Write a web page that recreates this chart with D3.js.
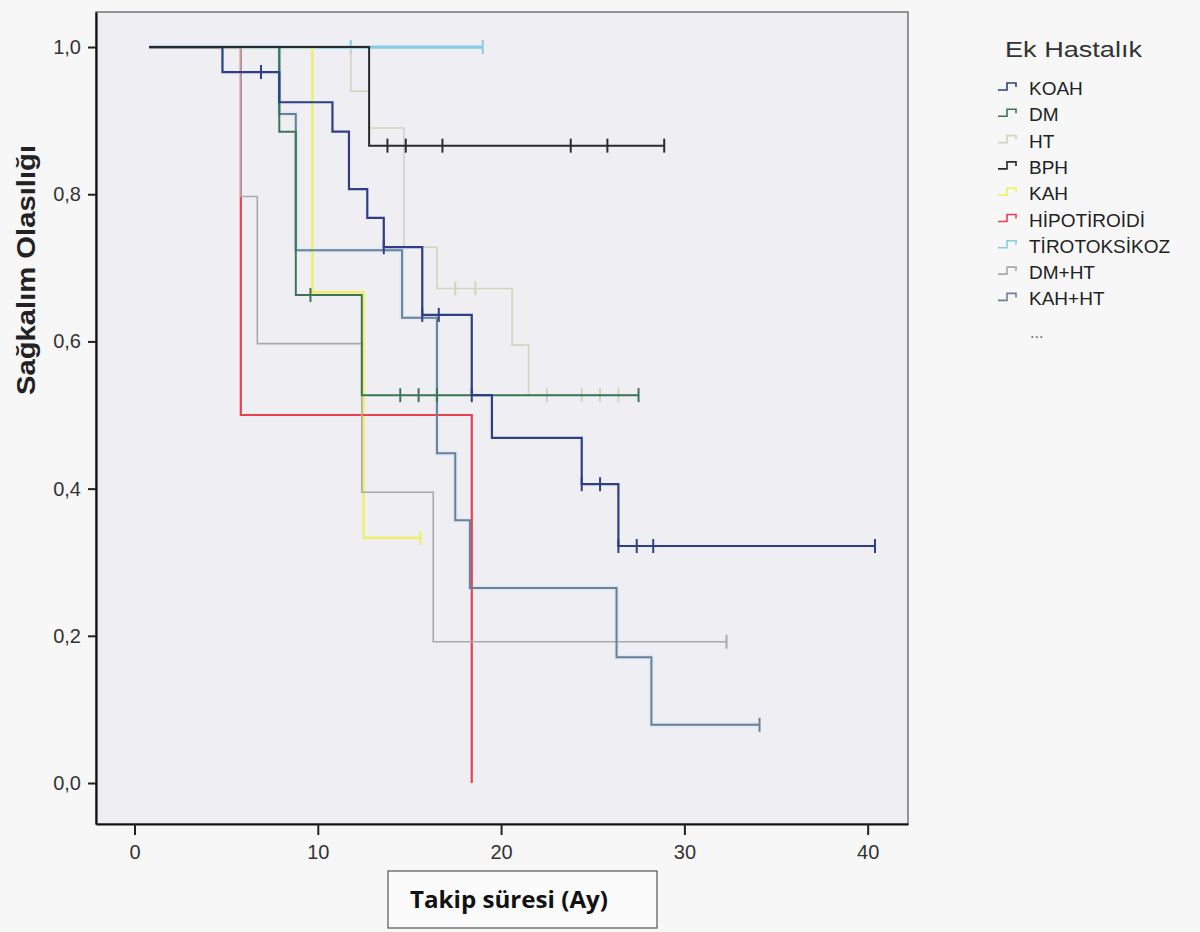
<!DOCTYPE html>
<html><head><meta charset="utf-8">
<script src="https://cdn.jsdelivr.net/npm/d3@7"></script>
<style>
html,body{margin:0;padding:0;background:#f7f7f8;}
svg{display:block;}
</style></head>
<body>
<svg id="chart" width="1200" height="932"></svg>
<script>
// ---- data (time in months, survival probability) ----
const seriesNames = ["KOAH","DM","HT","BPH","KAH","HİPOTİROİDİ","TİROTOKSİKOZ","DM+HT","KAH+HT"];
const koahSteps = [[0.8,1],[4.8,0.966],[7.9,0.925],[10.8,0.885],[11.7,0.807],[12.7,0.768],[13.6,0.728],[15.7,0.636],[18.4,0.527],[19.5,0.469],[24.4,0.406],[26.4,0.322],[40.4,0.322]];
const koahCensor = [6.9,13.6,15.7,16.6,18.4,24.4,25.4,26.4,27.4,28.3,40.4];
const dmSteps = [[0.8,1],[7.9,0.885],[8.8,0.663],[12.4,0.527],[27.5,0.527]];
const dmCensor = [9.6,14.5,15.5,16.5,27.5];
const htSteps = [[0.8,1],[11.8,0.94],[12.8,0.89],[14.7,0.728],[16.5,0.672],[20.6,0.595],[21.5,0.527],[27.4,0.527]];
const htCensor = [17.5,18.6,22.5,24.4,25.4,26.4];
const bphSteps = [[0.8,1],[12.8,0.866],[28.9,0.866]];
const bphCensor = [13.8,14.8,16.8,23.8,25.8,28.9];
const kahSteps = [[0.8,1],[9.7,0.667],[12.5,0.333],[15.6,0.333]];
const kahCensor = [15.6];
const hipoSteps = [[0.8,1],[5.8,0.5],[18.4,0.0]];
const hipoCensor = [];
const tiroSteps = [[0.8,1],[19.0,1]];
const tiroCensor = [11.8,19.0];
const dmhtSteps = [[0.8,1],[5.8,0.797],[6.7,0.597],[12.4,0.395],[16.3,0.192],[32.3,0.192]];
const dmhtCensor = [32.3];
const kahhtSteps = [[0.8,1],[7.9,0.909],[8.8,0.724],[14.6,0.632],[16.5,0.448],[17.5,0.357],[18.3,0.265],[26.3,0.171],[28.2,0.079],[34.1,0.079]];
const kahhtCensor = [34.1];
const xTicks = [0,10,20,30,40];
const yTicks = [0,0.2,0.4,0.6,0.8,1.0];
const legendTitle = "Ek Hastalık";
const xTitle = "Takip süresi (Ay)";
const yTitle = "Sağkalım Olasılığı";

// ---- styles ----
const colors = {"KOAH":"#2d3f86","DM":"#3d7554","HT":"#d2d4bc","BPH":"#2b2b2b","KAH":"#eef05a","HİPOTİROİDİ":"#e8424e","TİROTOKSİKOZ":"#86cbe4","DM+HT":"#a9a9ad","KAH+HT":"#6c7f99"};
const seriesData = {
  "KOAH":[koahSteps,koahCensor],"DM":[dmSteps,dmCensor],"HT":[htSteps,htCensor],"BPH":[bphSteps,bphCensor],
  "KAH":[kahSteps,kahCensor],"HİPOTİROİDİ":[hipoSteps,hipoCensor],"TİROTOKSİKOZ":[tiroSteps,tiroCensor],
  "DM+HT":[dmhtSteps,dmhtCensor],"KAH+HT":[kahhtSteps,kahhtCensor]};
const drawOrder = ["TİROTOKSİKOZ","HT","KAH","HİPOTİROİDİ","DM+HT","KAH+HT","DM","KOAH","BPH"];
const widths = {"TİROTOKSİKOZ":3.2,"HT":1.6,"KAH":2.2,"HİPOTİROİDİ":2.2,"DM+HT":1.6,"KAH+HT":2,"DM":2,"KOAH":2.2,"BPH":2};

const svg = d3.select("#chart");
const L=96, R=908, T=12, B=824;
const x = d3.scaleLinear().domain([-2.1,42.2]).range([L,R]);
const y = d3.scaleLinear().domain([-0.0557,1.0476]).range([B,T]);

svg.append("rect").attr("x",L).attr("y",T).attr("width",R-L).attr("height",B-T)
  .attr("fill","#efeff3").attr("stroke","#555").attr("stroke-width",1.2);

const line = d3.line().x(d=>x(d[0])).y(d=>y(d[1])).curve(d3.curveStepAfter);
function valueAt(steps,t){let v=steps[0][1];for(const s of steps){if(s[0]<=t+1e-9)v=s[1];}return v;}

const plot = svg.append("g");
// soft glow under KAH+HT (scan bleed)
plot.append("path").datum(kahhtSteps).attr("d",line).attr("fill","none")
  .attr("stroke","#d6e8f2").attr("stroke-width",5).attr("opacity",0.7);
drawOrder.forEach(name=>{
  const [steps,cens]=seriesData[name];
  plot.append("path").datum(steps).attr("d",line).attr("fill","none")
    .attr("stroke",colors[name]).attr("stroke-width",widths[name]);
  plot.selectAll(null).data(cens).enter().append("line")
    .attr("x1",d=>x(d)).attr("x2",d=>x(d))
    .attr("y1",d=>y(valueAt(steps,d))-7).attr("y2",d=>y(valueAt(steps,d))+7)
    .attr("stroke",colors[name]).attr("stroke-width",2);
});

// axes
const fmt = d=>d3.format(".1f")(d).replace(".",",");
const yAxis = svg.append("g").attr("transform",`translate(${L},0)`)
  .call(d3.axisLeft(y).tickValues(yTicks).tickFormat(fmt).tickSize(8).tickSizeOuter(0).tickPadding(7));
const xAxis = svg.append("g").attr("transform",`translate(0,${B})`)
  .call(d3.axisBottom(x).tickValues(xTicks).tickFormat(d3.format("d")).tickSize(11).tickSizeOuter(0).tickPadding(10));
[yAxis,xAxis].forEach(a=>{
  a.select(".domain").attr("stroke","#111").attr("stroke-width",2.2);
  a.selectAll(".tick line").attr("stroke","#222").attr("stroke-width",2);
  a.selectAll("text").attr("font-family","Liberation Sans, Arial, sans-serif").attr("font-size",20).attr("fill","#333");
});

// y title
svg.append("text").attr("transform","translate(35,270) rotate(-90)")
  .attr("text-anchor","middle").attr("font-family","Liberation Sans, Arial, sans-serif")
  .attr("font-weight","bold").attr("font-size",25).attr("textLength",250).attr("lengthAdjust","spacingAndGlyphs")
  .attr("fill","#222").text(yTitle);

// x title box
svg.append("rect").attr("x",388).attr("y",871).attr("width",269).attr("height",57)
  .attr("fill","#fbfbfb").attr("stroke","#555").attr("stroke-width",1.2);
svg.append("text").attr("x",509).attr("y",908).attr("text-anchor","middle")
  .attr("font-family","Open Sans, Lato, sans-serif").attr("font-weight","bold").attr("font-size",24)
  .attr("textLength",198).attr("lengthAdjust","spacingAndGlyphs")
  .attr("fill","#111").text(xTitle);

// legend
const lg = svg.append("g");
lg.append("text").attr("x",1005).attr("y",57).attr("font-family","Liberation Sans, Arial, sans-serif")
  .attr("font-size",22).attr("textLength",137).attr("lengthAdjust","spacingAndGlyphs")
  .attr("fill","#333").text(legendTitle);
seriesNames.forEach((name,i)=>{
  const cy = 88 + i*26.3;
  lg.append("path").attr("d",`M${998},${cy+2} h9 v-7 h9 v4`).attr("fill","none")
    .attr("stroke",colors[name]).attr("stroke-width",1.6);
  lg.append("text").attr("x",1029).attr("y",cy+7).attr("font-family","Liberation Sans, Arial, sans-serif")
    .attr("font-size",19).attr("fill","#222").text(name);
});
lg.append("text").attr("x",1030).attr("y",338).attr("font-family","Liberation Sans, Arial, sans-serif")
  .attr("font-size",16).attr("fill","#666").text("...");
</script>
</body></html>
